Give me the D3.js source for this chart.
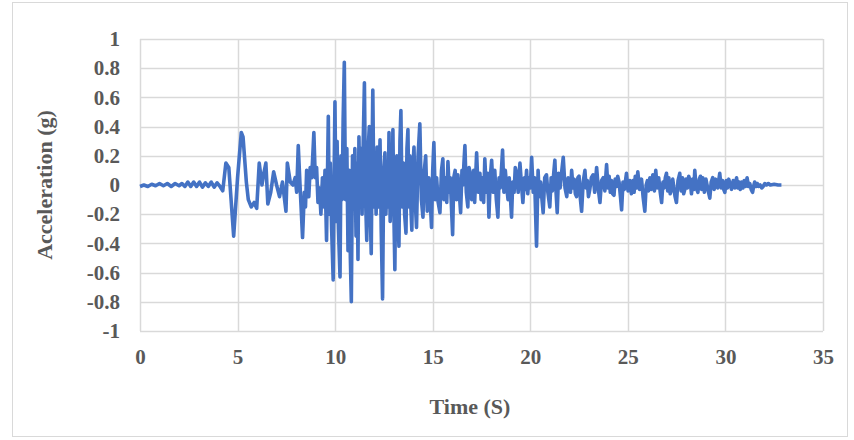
<!DOCTYPE html>
<html>
<head>
<meta charset="utf-8">
<script src="https://cdn.jsdelivr.net/npm/d3@7"></script>
<style>
  body { margin: 0; background: #fff; }
  svg { display: block; }
  .tick text { font-family: "Liberation Serif", "Times New Roman", serif; font-weight: bold; fill: #595959; }
  .title { font-family: "Liberation Serif", "Times New Roman", serif; font-weight: bold; fill: #595959; }
</style>
</head>
<body>
<svg id="chart" width="854" height="440"></svg>
<script>
// ground motion record, [time (s), acceleration (g)]
var onset = [
  [0, -0.01], [0.2, 0.0], [0.4, -0.01], [0.6, 0.005], [0.8, -0.005], [1.0, 0.01], [1.2, -0.005],
  [1.4, 0.01], [1.6, -0.01], [1.8, 0.01], [2.0, -0.005], [2.15, 0.01], [2.3, -0.01], [2.45, 0.02],
  [2.6, -0.01], [2.75, 0.02], [2.9, -0.01], [3.05, 0.02], [3.2, -0.015], [3.35, 0.015], [3.5, -0.01],
  [3.65, 0.02], [3.8, -0.015], [3.95, 0.015], [4.1, -0.01], [4.24, -0.04],
  [4.40, 0.15], [4.55, 0.12], [4.80, -0.35], [5.00, 0.05], [5.19, 0.36], [5.28, 0.33], [5.45, 0.02],
  [5.55, -0.10], [5.70, -0.15], [5.85, -0.12], [5.98, -0.16], [6.11, 0.15], [6.25, 0.0], [6.33, 0.07],
  [6.45, 0.15], [6.55, -0.13], [6.70, -0.05], [6.85, 0.09], [7.00, 0.0], [7.15, -0.08], [7.30, 0.02],
  [7.48, -0.18], [7.55, 0.15], [7.70, 0.02], [7.84, 0.0]
];
var strongPhase = [
  [7.95, 0.05], [8.03, -0.05], [8.11, 0.27], [8.20, 0.0], [8.33, -0.36], [8.42, -0.05], [8.48, -0.15],
  [8.54, 0.10], [8.60, -0.02], [8.65, -0.08], [8.72, 0.12], [8.80, 0.05], [8.91, 0.36], [8.98, 0.05],
  [9.05, 0.12], [9.12, -0.12], [9.20, -0.02], [9.27, -0.20], [9.35, 0.05], [9.42, -0.15], [9.48, 0.10],
  [9.56, -0.38], [9.65, 0.47], [9.70, -0.20], [9.75, 0.15], [9.82, -0.30], [9.90, -0.65], [9.95, 0.10],
  [9.99, 0.57], [10.05, -0.25], [10.10, 0.30], [10.17, -0.30], [10.25, -0.63], [10.30, 0.20],
  [10.36, -0.10], [10.41, 0.45], [10.47, 0.84], [10.53, -0.10], [10.60, 0.25], [10.66, -0.45],
  [10.72, 0.10], [10.78, -0.50], [10.83, -0.80], [10.89, 0.20], [10.95, -0.15], [11.01, 0.25],
  [11.07, -0.35], [11.12, 0.15], [11.17, -0.51], [11.22, 0.33], [11.27, -0.10], [11.33, 0.25],
  [11.38, -0.20], [11.44, 0.30], [11.50, 0.70], [11.56, -0.10], [11.62, -0.38], [11.68, 0.20],
  [11.75, 0.40], [11.80, -0.20], [11.85, -0.47], [11.90, 0.30], [11.93, 0.65], [11.99, -0.15],
  [12.05, 0.10], [12.10, -0.20], [12.15, 0.26], [12.22, -0.15], [12.30, 0.31], [12.36, -0.30],
  [12.43, -0.78], [12.49, 0.10], [12.55, 0.22], [12.60, -0.20], [12.66, 0.05], [12.71, -0.15],
  [12.76, 0.36], [12.82, -0.25], [12.88, 0.10], [12.92, -0.10], [12.96, 0.38], [13.01, -0.20],
  [13.06, -0.58], [13.11, 0.10], [13.16, 0.20], [13.21, -0.20], [13.27, -0.42], [13.32, 0.30],
  [13.37, 0.51], [13.43, -0.15], [13.50, 0.15], [13.56, -0.20], [13.63, -0.33], [13.68, 0.25],
  [13.73, 0.38], [13.78, -0.15], [13.83, 0.20], [13.88, -0.15], [13.93, -0.31], [13.98, 0.10],
  [14.04, 0.26], [14.10, -0.10], [14.17, -0.29], [14.25, 0.20], [14.34, 0.42], [14.42, -0.10],
  [14.50, -0.22], [14.57, 0.10], [14.64, 0.20], [14.72, -0.18], [14.80, 0.05], [14.87, -0.10],
  [14.94, -0.29], [15.00, 0.10], [15.06, 0.29], [15.13, -0.10], [15.20, 0.05]
];
var middle = [
  [15.28, -0.12], [15.37, -0.19], [15.45, 0.10], [15.52, 0.18], [15.58, -0.10], [15.65, 0.05],
  [15.72, -0.12], [15.78, 0.16], [15.85, -0.05], [15.90, 0.05], [15.96, -0.15], [16.02, -0.34],
  [16.08, 0.05], [16.15, 0.10], [16.22, -0.10], [16.29, 0.07], [16.36, -0.05], [16.43, -0.19],
  [16.50, 0.10], [16.55, 0.0], [16.60, 0.15], [16.65, 0.27], [16.72, -0.05], [16.80, -0.15],
  [16.86, 0.12], [16.93, 0.08], [17.00, -0.10], [17.06, -0.06], [17.10, 0.10], [17.15, -0.12],
  [17.20, 0.05], [17.25, 0.22], [17.33, -0.05], [17.42, 0.08], [17.48, -0.10], [17.55, 0.05],
  [17.61, -0.12], [17.67, 0.18], [17.75, -0.05], [17.82, 0.08], [17.88, -0.22], [17.95, 0.05],
  [18.02, 0.17], [18.10, -0.05], [18.18, 0.10], [18.26, -0.10], [18.34, -0.22], [18.40, 0.05],
  [18.46, -0.02], [18.52, 0.10], [18.58, 0.24], [18.65, -0.05], [18.72, 0.10], [18.79, -0.01],
  [18.86, -0.10], [18.92, 0.05], [18.98, -0.08], [19.04, -0.22], [19.10, 0.02], [19.17, -0.05],
  [19.23, 0.12], [19.30, 0.08], [19.38, -0.05], [19.47, 0.15], [19.54, 0.02], [19.62, -0.12],
  [19.70, 0.05], [19.75, -0.03], [19.81, 0.10], [19.87, -0.06], [19.93, 0.05], [20.00, -0.02],
  [20.07, 0.19], [20.15, -0.05], [20.22, 0.05], [20.32, -0.42], [20.40, 0.10], [20.46, -0.08],
  [20.53, 0.02], [20.60, -0.10], [20.66, -0.19], [20.74, 0.05], [20.83, 0.07], [20.90, -0.05],
  [21.00, -0.15], [21.07, 0.05], [21.13, -0.04], [21.20, 0.08], [21.26, 0.17], [21.32, -0.05],
  [21.38, -0.19], [21.45, 0.08], [21.53, -0.02], [21.60, 0.08], [21.69, 0.19], [21.78, -0.02],
  [21.87, -0.08], [21.94, 0.05]
];
var coda = [
  [22.00, 0.02], [22.06, -0.05], [22.12, 0.10], [22.19, -0.02], [22.25, 0.04], [22.31, -0.06],
  [22.37, -0.08], [22.44, 0.05], [22.50, 0.06], [22.57, -0.10], [22.63, -0.18], [22.71, 0.02],
  [22.80, 0.10], [22.86, -0.02], [22.92, 0.03], [22.98, -0.08], [23.05, -0.03], [23.13, 0.05],
  [23.22, 0.07], [23.30, -0.05], [23.40, 0.12], [23.48, -0.02], [23.57, -0.12], [23.65, 0.03],
  [23.74, 0.05], [23.82, -0.04], [23.91, 0.14], [23.98, -0.02], [24.04, 0.06], [24.10, -0.05],
  [24.16, 0.03], [24.22, -0.06], [24.29, -0.07], [24.35, 0.04], [24.42, -0.01], [24.48, 0.06],
  [24.55, 0.02], [24.62, -0.08], [24.68, -0.17], [24.75, 0.02], [24.82, -0.03], [24.93, 0.08],
  [25.01, -0.04], [25.10, 0.03], [25.18, -0.06], [25.26, 0.03], [25.32, -0.05], [25.38, 0.06],
  [25.45, -0.02], [25.51, 0.09], [25.60, -0.03], [25.70, 0.04], [25.78, -0.08], [25.87, -0.18],
  [25.94, 0.0], [26.00, 0.03], [26.06, -0.04], [26.13, 0.05], [26.20, -0.03], [26.28, 0.07],
  [26.36, -0.04], [26.43, 0.10], [26.50, -0.02], [26.58, 0.05], [26.66, -0.05], [26.73, -0.12],
  [26.80, 0.02], [26.86, -0.02], [26.92, 0.05], [26.98, 0.08], [27.04, -0.04], [27.10, 0.05],
  [27.17, -0.06], [27.24, -0.03], [27.30, 0.04], [27.36, -0.02], [27.42, -0.08], [27.49, -0.12],
  [27.57, 0.03], [27.66, 0.08], [27.73, -0.04], [27.80, 0.05], [27.86, -0.06], [27.92, -0.03],
  [27.98, 0.04], [28.05, -0.02], [28.12, 0.06], [28.20, 0.02], [28.26, -0.06], [28.32, 0.04],
  [28.38, -0.03], [28.43, 0.10], [28.50, -0.02], [28.59, -0.05], [28.66, 0.04], [28.72, 0.06],
  [28.78, -0.03], [28.84, 0.05], [28.92, -0.05], [29.00, 0.04], [29.10, -0.03], [29.20, -0.09],
  [29.27, 0.02], [29.35, 0.05], [29.42, -0.03], [29.50, 0.04], [29.60, -0.02], [29.71, 0.08],
  [29.78, -0.02], [29.85, 0.03], [29.91, -0.03], [29.97, -0.05], [30.04, 0.03], [30.10, -0.02],
  [30.17, 0.04], [30.23, 0.01], [30.31, -0.03], [30.40, 0.03], [30.48, -0.02], [30.57, 0.05],
  [30.64, -0.02], [30.70, 0.02], [30.76, -0.03], [30.82, 0.02], [30.90, -0.02], [30.96, 0.03],
  [31.03, -0.01], [31.11, 0.05], [31.18, -0.01], [31.25, 0.01], [31.32, -0.03], [31.39, -0.05],
  [31.46, 0.0], [31.50, 0.02], [31.57, -0.01], [31.63, 0.01], [31.70, -0.01], [31.78, 0.0],
  [31.86, -0.02], [31.93, -0.01], [32.02, 0.01], [32.10, 0.0], [32.20, 0.01], [32.30, 0.0],
  [32.50, 0.005], [32.70, 0.0], [32.87, 0.0]
];
var yTicks = [-1, -0.8, -0.6, -0.4, -0.2, 0, 0.2, 0.4, 0.6, 0.8, 1];
var xTicks = [0, 5, 10, 15, 20, 25, 30, 35];

var record = onset.concat(strongPhase, middle, coda);

var svg = d3.select("#chart"),
  width = +svg.attr("width"),
  height = +svg.attr("height"),
  margin = {top: 39, right: 31, bottom: 109, left: 140};

// outer chart border
svg.append("rect")
  .attr("x", 12.5).attr("y", 2.5)
  .attr("width", 835).attr("height", 434)
  .attr("fill", "none")
  .attr("stroke", "#d9d9d9");

var xScale = d3.scaleLinear().domain([0, 35]).range([margin.left, width - margin.right]);
var yScale = d3.scaleLinear().domain([-1, 1]).range([height - margin.bottom, margin.top]);

// gridlines
svg.append("g")
  .selectAll("line")
  .data(yTicks)
  .enter().append("line")
  .attr("x1", xScale(0)).attr("x2", xScale(35))
  .attr("y1", function (d) { return Math.round(yScale(d)) + 0.5; })
  .attr("y2", function (d) { return Math.round(yScale(d)) + 0.5; })
  .attr("stroke", "#d9d9d9").attr("stroke-width", 1.5);

svg.append("g")
  .selectAll("line")
  .data(xTicks)
  .enter().append("line")
  .attr("y1", yScale(-1)).attr("y2", yScale(1))
  .attr("x1", function (d) { return Math.round(xScale(d)) + 0.5; })
  .attr("x2", function (d) { return Math.round(xScale(d)) + 0.5; })
  .attr("stroke", "#d9d9d9").attr("stroke-width", 1.5);

// axes (labels only, hyphen minus like the original)
var yAxis = d3.axisLeft(yScale).tickValues(yTicks).tickSize(0).tickPadding(0)
  .tickFormat(function (d) { return String(+d.toFixed(1)); });
svg.append("g")
  .attr("transform", "translate(120,0)")
  .call(yAxis)
  .call(function (g) { g.select(".domain").remove(); })
  .selectAll("text").style("font-size", "21px");

var xAxis = d3.axisBottom(xScale).tickValues(xTicks).tickSize(0).tickPadding(0);
svg.append("g")
  .attr("transform", "translate(0,349)")
  .call(xAxis)
  .call(function (g) { g.select(".domain").remove(); })
  .selectAll("text").style("font-size", "21px");

// record
var line = d3.line()
  .x(function (d) { return xScale(d[0]); })
  .y(function (d) { return yScale(d[1]); });

svg.append("path")
  .datum(record)
  .attr("d", line)
  .attr("fill", "none")
  .attr("stroke", "#4472c4")
  .attr("stroke-width", 3.6)
  .attr("stroke-linejoin", "round");

// axis titles
svg.append("text")
  .attr("class", "title")
  .attr("x", 470).attr("y", 414)
  .attr("text-anchor", "middle")
  .style("font-size", "22px")
  .text("Time (S)");

svg.append("text")
  .attr("class", "title")
  .attr("transform", "translate(52," + yScale(0) + ") rotate(-90)")
  .attr("text-anchor", "middle")
  .style("font-size", "22px")
  .text("Acceleration (g)");
</script>
</body>
</html>
